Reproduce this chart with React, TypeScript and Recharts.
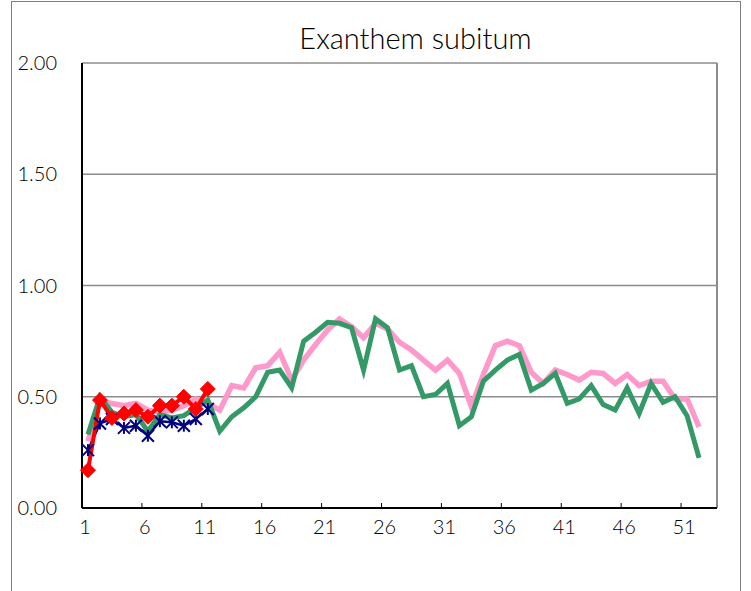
import { LineChart, Line, XAxis, YAxis, CartesianGrid, ReferenceLine } from "recharts";

const weeks = [
  1, 2, 3, 4, 5, 6, 7, 8, 9, 10, 11, 12, 13, 14, 15, 16, 17, 18, 19, 20, 21, 22, 23, 24, 25, 26, 27,
  28, 29, 30, 31, 32, 33, 34, 35, 36, 37, 38, 39, 40, 41, 42, 43, 44, 45, 46, 47, 48, 49, 50, 51, 52, 53,
];
const xTicks = [1, 6, 11, 16, 21, 26, 31, 36, 41, 46, 51];
const yTicks = [0, 0.5, 1, 1.5, 2];

// pink series
const pinkValues = [
  0.3, 0.48, 0.47, 0.46, 0.47, 0.44, 0.43, 0.44, 0.46, 0.49, 0.47, 0.44, 0.55, 0.54, 0.63, 0.64, 0.7,
  0.575, 0.665, 0.735, 0.8, 0.85, 0.815, 0.765, 0.83, 0.805, 0.745, 0.71, 0.665, 0.62, 0.665, 0.605,
  0.455, 0.6, 0.73, 0.75, 0.73, 0.61, 0.56, 0.62, 0.6, 0.575, 0.61, 0.605, 0.56, 0.6, 0.55, 0.57, 0.57,
  0.49, 0.49, 0.365,
];
// green series
const greenValues = [
  0.33, 0.5, 0.43, 0.41, 0.42, 0.345, 0.42, 0.405, 0.415, 0.45, 0.485, 0.345, 0.41, 0.45, 0.5, 0.61,
  0.62, 0.54, 0.75, 0.79, 0.835, 0.83, 0.81, 0.62, 0.85, 0.81, 0.62, 0.64, 0.5, 0.51, 0.56, 0.37, 0.41,
  0.57, 0.62, 0.665, 0.69, 0.53, 0.56, 0.605, 0.47, 0.49, 0.55, 0.465, 0.44, 0.54, 0.425, 0.56, 0.475,
  0.5, 0.415, 0.225,
];
// navy series with star markers
const blueValues = [0.26, 0.38, 0.4, 0.36, 0.37, 0.325, 0.39, 0.385, 0.37, 0.4, 0.445];
// red series with diamond markers
const redValues = [0.17, 0.485, 0.405, 0.425, 0.44, 0.41, 0.46, 0.46, 0.5, 0.445, 0.535];

const data = weeks.map((w, i) => ({
  week: w,
  pink: pinkValues[i],
  green: greenValues[i],
  blue: blueValues[i],
  red: redValues[i],
}));

const FONT = 'Lato, "Liberation Sans", sans-serif';
const HALF_BAND = (717.3 - 81.7) / 53 / 2;

const XTick = (props: any) => {
  const { x, y, payload } = props;
  return (
    <g>
      <line x1={x - HALF_BAND} y1={y} x2={x - HALF_BAND} y2={y - 5} stroke="#000" strokeWidth={1} />
      <text x={x - 3} y={y + 26} textAnchor="middle" fontSize={20} fontWeight={300} fontFamily={FONT} fill="#000">
        {payload.value}
      </text>
    </g>
  );
};

const Diamond = (props: any) => {
  const { cx, cy } = props;
  if (cx == null || cy == null) return null;
  const r = 7.5;
  return (
    <polygon
      points={`${cx},${cy - r} ${cx + r},${cy} ${cx},${cy + r} ${cx - r},${cy}`}
      fill="#FF0000"
      stroke="#FF0000"
    />
  );
};

const Star = (props: any) => {
  const { cx, cy } = props;
  if (cx == null || cy == null) return null;
  const r = 6;
  return (
    <g stroke="#000080" strokeWidth={2}>
      <line x1={cx - r} y1={cy - r} x2={cx + r} y2={cy + r} />
      <line x1={cx - r} y1={cy + r} x2={cx + r} y2={cy - r} />
      <line x1={cx} y1={cy - r} x2={cx} y2={cy + r} />
    </g>
  );
};

export default function App() {
  return (
    <div style={{ position: "absolute", left: 0, top: 0, width: 751, height: 591, background: "#fff", overflow: "hidden" }}>
      <div
        style={{
          position: "absolute",
          left: 11,
          top: 1,
          width: 728,
          height: 600,
          border: "1px solid #808080",
        }}
      />
      <div
        style={{
          position: "absolute",
          left: 0,
          top: 22,
          width: 831,
          textAlign: "center",
          fontFamily: FONT,
          fontWeight: 300,
          fontSize: 29,
          lineHeight: "32px",
          color: "#000",
        }}
      >
        Exanthem subitum
      </div>
      <LineChart
        width={751}
        height={591}
        data={data}
        margin={{ top: 63, right: 34, bottom: 53, left: 12 }}
        style={{ position: "absolute", left: 0, top: 0 }}
      >
        <CartesianGrid vertical={false} stroke="#8c8c8c" strokeWidth={1.5} />
        <XAxis
          type="number"
          dataKey="week"
          domain={[0.5, 53.5]}
          ticks={xTicks}
          interval={0}
          tick={<XTick />}
          tickLine={false}
          tickSize={0}
          tickMargin={0}
          height={30}
          axisLine={{ stroke: "#000", strokeWidth: 2 }}
        />
        <YAxis
          type="number"
          domain={[0, 2]}
          ticks={yTicks}
          interval={0}
          width={70}
          tickLine={false}
          tickSize={0}
          tickMargin={25}
          tickFormatter={(v: number) => v.toFixed(2)}
          tick={{ fontSize: 20, fontWeight: 300, fontFamily: FONT, fill: "#000" }}
          axisLine={{ stroke: "#000", strokeWidth: 2 }}
        />
        <ReferenceLine x={53.5} stroke="#8c8c8c" strokeWidth={2} />
        <Line
          type="linear"
          dataKey="pink"
          stroke="#FF99CC"
          strokeWidth={5.5}
          dot={false}
          isAnimationActive={false}
        />
        <Line
          type="linear"
          dataKey="green"
          stroke="#339966"
          strokeWidth={5}
          dot={false}
          isAnimationActive={false}
        />
        <Line
          type="linear"
          dataKey="blue"
          stroke="#000080"
          strokeWidth={2.5}
          dot={<Star />}
          isAnimationActive={false}
        />
        <Line
          type="linear"
          dataKey="red"
          stroke="#FF0000"
          strokeWidth={4}
          dot={<Diamond />}
          isAnimationActive={false}
        />
      </LineChart>
    </div>
  );
}
